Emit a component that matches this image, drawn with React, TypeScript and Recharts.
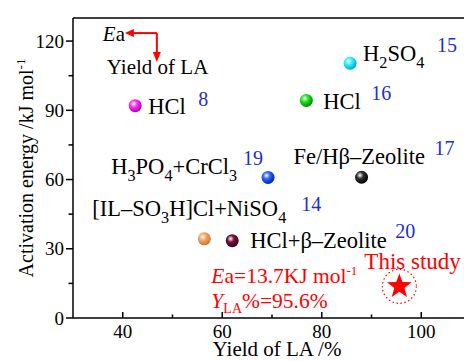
import React from "react";
import { ScatterChart, Scatter, XAxis, YAxis, ReferenceLine, ReferenceDot, Label } from "recharts";

// data
const catalysts = ["HCl", "H2SO4", "HCl", "H3PO4+CrCl3", "Fe/Hβ–Zeolite", "[IL–SO3H]Cl+NiSO4", "HCl+β–Zeolite"];
const refs = ["8", "15", "16", "19", "17", "14", "20"];
const yieldLA = [42.5, 85.7, 76.9, 69.2, 88, 56.4, 62];
const activationEnergy = [92, 110.4, 94.3, 60.9, 61, 34.3, 33.5];
const thisStudyYield = [95.6];
const thisStudyEa = [13.7];

const xTicks = [40, 50, 60, 70, 80, 90, 100];
const xTickLabels = [40, 60, 80, 100];
const yTicks = [0, 15, 30, 45, 60, 75, 90, 105, 120];
const yTickLabels = [0, 30, 60, 90, 120];

// styling
const ballColors = [
  ["#ff33ff", "#b000b0"],
  ["#33f4ff", "#00a8c8"],
  ["#22e622", "#008a00"],
  ["#3366ff", "#0022b0"],
  ["#333333", "#000000"],
  ["#f7a865", "#cc7630"],
  ["#7a1040", "#3a0018"],
];
// label offsets relative to each point: [name dx, name dy, ref dx, ref dy, anchor]
const labelOffsets: [number, number, number, number, string][] = [
  [13, 8, 63, 0, "start"],
  [13, -2, 87, -11, "start"],
  [17, 9, 65, 0, "start"],
  [-31, -3, -25, -12, "end"],
  [-68, -13, 73, -22, "start"],
  [-112, -23, 97, -28, "start"],
  [18, 7, 163, -3, "start"],
];

const FONT = "Liberation Serif";
const RED = "#ff0000";
const BLUE = "#1c2fd0";
const W = 480;
const H = 361;
const M = { top: 18, right: 9, left: 0, bottom: 0 };
const Y_AXIS_W = 73;
const X_AXIS_H = 43;
const PLOT_LEFT = M.left + Y_AXIS_W;
const PLOT_BOTTOM = H - M.bottom - X_AXIS_H;

const scatterData = catalysts.map((name, i) => ({
  x: yieldLA[i],
  y: activationEnergy[i],
  name,
  ref: refs[i],
  i,
}));
const studyData = thisStudyYield.map((x, i) => ({ x, y: thisStudyEa[i] }));

const Formula = ({ x, y, text, size, fill, anchor = "start" }: any) => {
  const parts = text.split(/(\d+)/).filter(Boolean);
  const shift = size * 0.3;
  let prevSub = false;
  return (
    <text x={x} y={y} fontSize={size} fill={fill} style={{ fontFamily: FONT }} textAnchor={anchor}>
      {parts.map((p: string, k: number) => {
        const isSub = /^\d+$/.test(p);
        const dy = isSub ? (prevSub ? 0 : shift) : prevSub ? -shift : 0;
        prevSub = isSub;
        return (
          <tspan key={k} dy={dy} fontSize={isSub ? size * 0.72 : size}>
            {p}
          </tspan>
        );
      })}
    </text>
  );
};

const Ball = (props: any) => {
  const { cx, cy, payload } = props;
  const i = payload.i;
  const [main, edge] = ballColors[i];
  const [ndx, ndy, rdx, rdy, anchor] = labelOffsets[i];
  const gid = `ball-grad-${i}`;
  return (
    <g>
      <defs>
        <radialGradient id={gid} cx="38%" cy="35%" r="65%">
          <stop offset="0%" stopColor="#ffffff" />
          <stop offset="40%" stopColor={main} />
          <stop offset="100%" stopColor={edge} />
        </radialGradient>
      </defs>
      <circle cx={cx} cy={cy} r={6.5} fill={`url(#${gid})`} />
      <Formula x={cx + ndx} y={cy + ndy} text={payload.name} size={22.5} fill="#000" anchor={anchor} />
      <text x={cx + rdx} y={cy + rdy} fontSize={20} fill={BLUE} style={{ fontFamily: FONT }}>
        {payload.ref}
      </text>
    </g>
  );
};

const Star = (props: any) => {
  const { cx, cy } = props;
  const pts: string[] = [];
  for (let k = 0; k < 10; k++) {
    const r = k % 2 === 0 ? 13 : 5.3;
    const a = -Math.PI / 2 + (k * Math.PI) / 5;
    pts.push(`${cx + r * Math.cos(a)},${cy + r * Math.sin(a)}`);
  }
  return (
    <g style={{ fontFamily: FONT }} fill={RED}>
      <circle cx={cx} cy={cy} r={17} fill="none" stroke={RED} strokeWidth={1.2} strokeDasharray="1.5 2.5" />
      <polygon points={pts.join(" ")} fill={RED} />
      <text x={cx - 35} y={cy - 17} fontSize={23}>
        This study
      </text>
      <text x={cx - 188} y={cy - 3} fontSize={21.5}>
        <tspan fontStyle="italic">E</tspan>
        <tspan>a=13.7KJ mol</tspan>
        <tspan fontSize={13} dy={-8}>
          -1
        </tspan>
      </text>
      <text x={cx - 188} y={cy + 22} fontSize={21.5}>
        <tspan fontStyle="italic">Y</tspan>
        <tspan fontSize={14} dy={5}>
          LA
        </tspan>
        <tspan dy={-5}>%=95.6%</tspan>
      </text>
    </g>
  );
};

const KeyNote = (props: any) => {
  const { cx, cy } = props;
  const ax = cx + 54;
  const ay = cy - 8;
  return (
    <g style={{ fontFamily: FONT }}>
      <text x={cx} y={cy} fontSize={21} fill="#000">
        <tspan fontStyle="italic">E</tspan>a
      </text>
      <line x1={ax} y1={ay} x2={cx + 28} y2={ay} stroke={RED} strokeWidth={2} />
      <polygon points={`${cx + 22},${ay} ${cx + 31},${ay - 4} ${cx + 31},${ay + 4}`} fill={RED} />
      <line x1={ax} y1={ay} x2={ax} y2={ay + 22} stroke={RED} strokeWidth={2} />
      <polygon points={`${ax},${ay + 29} ${ax - 4},${ay + 19} ${ax + 4},${ay + 19}`} fill={RED} />
      <text x={cx + 4} y={cy + 33} fontSize={21} fill="#000">
        Yield of LA
      </text>
    </g>
  );
};

const XTick = (props: any) => {
  const { payload } = props;
  const x = payload.coordinate;
  const major = xTickLabels.includes(payload.value);
  return (
    <g>
      <line x1={x} y1={PLOT_BOTTOM} x2={x} y2={PLOT_BOTTOM - (major ? 6 : 3.5)} stroke="#000" strokeWidth={1.5} />
      {major && (
        <text x={x} y={PLOT_BOTTOM + 20} textAnchor="middle" fontSize={19} style={{ fontFamily: FONT }} fill="#000">
          {payload.value}
        </text>
      )}
    </g>
  );
};

const YTick = (props: any) => {
  const { payload } = props;
  const y = payload.coordinate;
  const major = yTickLabels.includes(payload.value);
  return (
    <g>
      <line x1={PLOT_LEFT} y1={y} x2={PLOT_LEFT - (major ? 7 : 4.5)} y2={y} stroke="#000" strokeWidth={1.5} />
      {major && (
        <text x={PLOT_LEFT - 9} y={y + 6.5} textAnchor="end" fontSize={19} style={{ fontFamily: FONT }} fill="#000">
          {payload.value}
        </text>
      )}
    </g>
  );
};

const YTitle = () => (
  <text
    x={33}
    y={168}
    transform="rotate(-90 33 168)"
    textAnchor="middle"
    fontSize={20}
    style={{ fontFamily: FONT }}
    fill="#000"
  >
    Activation energy /kJ mol
    <tspan fontSize={13} dy={-8}>
      -1
    </tspan>
  </text>
);

const XTitle = () => (
  <text x={277} y={356} textAnchor="middle" fontSize={21} style={{ fontFamily: FONT }} fill="#000">
    Yield of LA /%
  </text>
);

export default function App() {
  return (
    <div
      style={{
        position: "fixed",
        left: 0,
        top: 0,
        width: 464,
        height: H,
        overflow: "hidden",
        background: "#fff",
        fontFamily: FONT,
      }}
    >
      <ScatterChart width={W} height={H} margin={M}>
        <XAxis
          type="number"
          dataKey="x"
          domain={[30, 110]}
          ticks={xTicks}
          interval={0}
          height={X_AXIS_H}
          axisLine={{ stroke: "#000", strokeWidth: 1.5 }}
          tickLine={false}
          tick={<XTick />}
          allowDataOverflow
        >
          <Label content={<XTitle />} />
        </XAxis>
        <YAxis
          type="number"
          dataKey="y"
          domain={[0, 130]}
          ticks={yTicks}
          interval={0}
          width={Y_AXIS_W}
          axisLine={{ stroke: "#000", strokeWidth: 1.5 }}
          tickLine={false}
          tick={<YTick />}
          allowDataOverflow
        >
          <Label content={<YTitle />} />
        </YAxis>
        <ReferenceLine y={130} stroke="#000" strokeWidth={1.5} ifOverflow="visible" />
        <ReferenceDot x={36} y={120} r={0} ifOverflow="visible" shape={(p: any) => <KeyNote {...p} />} />
        <Scatter data={scatterData} isAnimationActive={false} shape={(p: any) => <Ball {...p} />} />
        <Scatter data={studyData} isAnimationActive={false} shape={(p: any) => <Star {...p} />} />
      </ScatterChart>
    </div>
  );
}
